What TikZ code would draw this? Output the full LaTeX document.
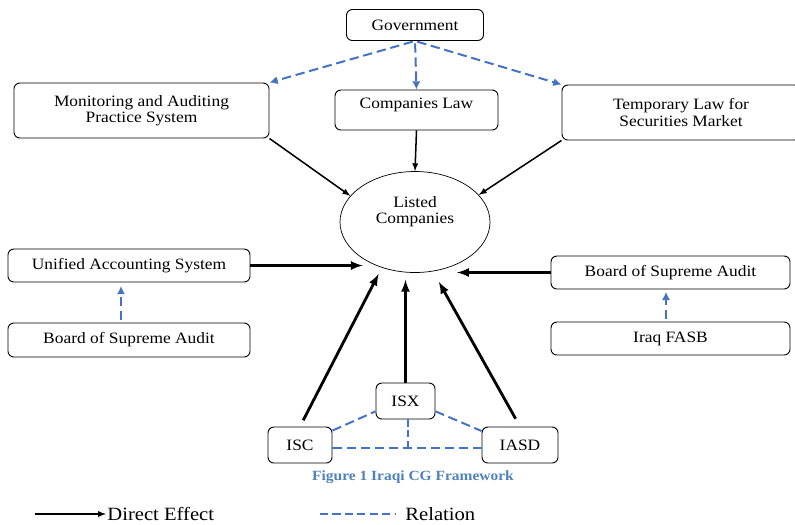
\documentclass[tikz,border=0pt]{standalone}
\usepackage{fontspec}
\setmainfont[FakeStretch=1.1]{Liberation Serif}
\usetikzlibrary{shapes.geometric,arrows.meta}
\definecolor{relblue}{RGB}{68,114,196}
\definecolor{capblue}{RGB}{79,129,189}
\begin{document}
\begin{tikzpicture}[x=0.03cm,y=-0.03cm,font=\fontsize{13.5}{14}\selectfont, line join=round, >=latex]
	\tikzset{box/.style={draw,rounded corners=5pt,line width=0.8pt,align=center,inner sep=2pt},
		effect/.style={->,line width=1.3pt},
		heavy/.style={->,line width=2.4pt},
		relation/.style={relblue,line width=1.7pt,dash pattern=on 8pt off 4pt},
		reltip/.style={-{Latex[length=7pt,width=7pt]}}}
	\useasboundingbox (0,0) rectangle (795,524);
	% top row
	\node[box,minimum width=4.11cm,minimum height=0.93cm] (gov) at (415,25) {Government};
	\node[box,minimum width=4.89cm,minimum height=1.2cm,text depth=0.4cm] (law) at (416.5,110) {Companies Law};
	\node[box,minimum width=7.65cm,minimum height=1.65cm] (mon) at (141.5,110.5) {Monitoring and Auditing\\Practice System};
	\node[box,minimum width=7.14cm,minimum height=1.65cm] (temp) at (681,112.5) {Temporary Law for\\Securities Market};
	\node[ellipse,draw,line width=0.6pt,align=center,minimum width=4.5cm,minimum height=3.03cm] (listed) at (415,222) {Listed\\Companies\\[6pt]~};
	% side boxes
	\node[box,minimum width=7.26cm,minimum height=0.99cm] (uas) at (129,265.5) {Unified Accounting System};
	\node[box,minimum width=7.26cm,minimum height=1.02cm] (bsaL) at (129,340) {Board of Supreme Audit};
	\node[box,minimum width=7.17cm,minimum height=0.99cm] (bsaR) at (670.5,272.5) {Board of Supreme Audit};
	\node[box,minimum width=7.17cm,minimum height=0.99cm] (fasb) at (670.5,338.5) {Iraq FASB};
	% bottom
	\node[box,minimum width=1.77cm,minimum height=1.08cm] (isx) at (405.5,401) {ISX};
	\node[box,minimum width=1.92cm,minimum height=1.08cm] (isc) at (300,445) {ISC};
	\node[box,minimum width=2.28cm,minimum height=1.08cm] (iasd) at (520,445) {IASD};
	\node[font=\bfseries\fontsize{12}{14}\selectfont,text=capblue] (caption) at (413,477) {Figure 1 Iraqi CG Framework};
	
	\foreach \t in {mon.north east, law.north, temp.north west}
	\draw[relation,reltip,shorten <=2pt] (gov.south) -- (\t);
	\draw[effect] (mon.south east) -- (listed.158);
	\draw[effect] (law.south) -- (listed.north);
	\draw[effect] (temp.south west) -- (listed.23);
	\draw[heavy] (uas.east) -- (uas.east -| listed.215);
	\draw[heavy] (bsaR.west) -- (bsaR.west -| listed.-45);
	\draw[heavy,shorten <=0.21cm,shorten >=0.21cm] (isc.north) -- (listed.234);
	\draw[heavy,shorten >=0.21cm] (isx.north) -- (isx.north |- listed.south);
	\draw[heavy,shorten <=0.27cm,shorten >=0.36cm] (iasd.north) -- (listed.290);
	\draw[relation,reltip,shorten <=2pt,shorten >=3pt] ([xshift=-0.24cm]bsaL.north) -- ([xshift=-0.24cm]uas.south);
	\draw[relation,reltip,shorten <=2pt,shorten >=2pt] ([xshift=-0.135cm]fasb.north) -- ([xshift=-0.135cm]bsaR.south);
	\draw[relation] (isc.24) -- (isx.199);
	\draw[relation] (isx.-19) -- (iasd.160);
	\draw[relation] ([yshift=-0.09cm]isc.east) -- ([yshift=-0.09cm]iasd.west);
	\draw[relation,dash pattern=on 6pt off 3pt] ([xshift=0.08cm]isx.south) -- ([xshift=0.08cm,yshift=-0.09cm]isx.south |- isc.east);
	
	% key
	\coordinate (keyL) at (35,514);
	\node[anchor=west,inner sep=1pt,font=\fontsize{16}{18}\selectfont] (keyD) at (106,514) {Direct Effect};
	\draw[effect] (keyL) -- (keyD.west);
	\coordinate (keyR) at (320,514);
	\node[anchor=west,inner sep=1pt,font=\fontsize{16}{18}\selectfont] (keyRel) at (404,514) {Relation};
	\draw[relation,line width=1.2pt,dash pattern=on 7pt off 3.6pt] (keyR) -- ([xshift=-0.27cm]keyRel.west);
\end{tikzpicture}
\end{document}
